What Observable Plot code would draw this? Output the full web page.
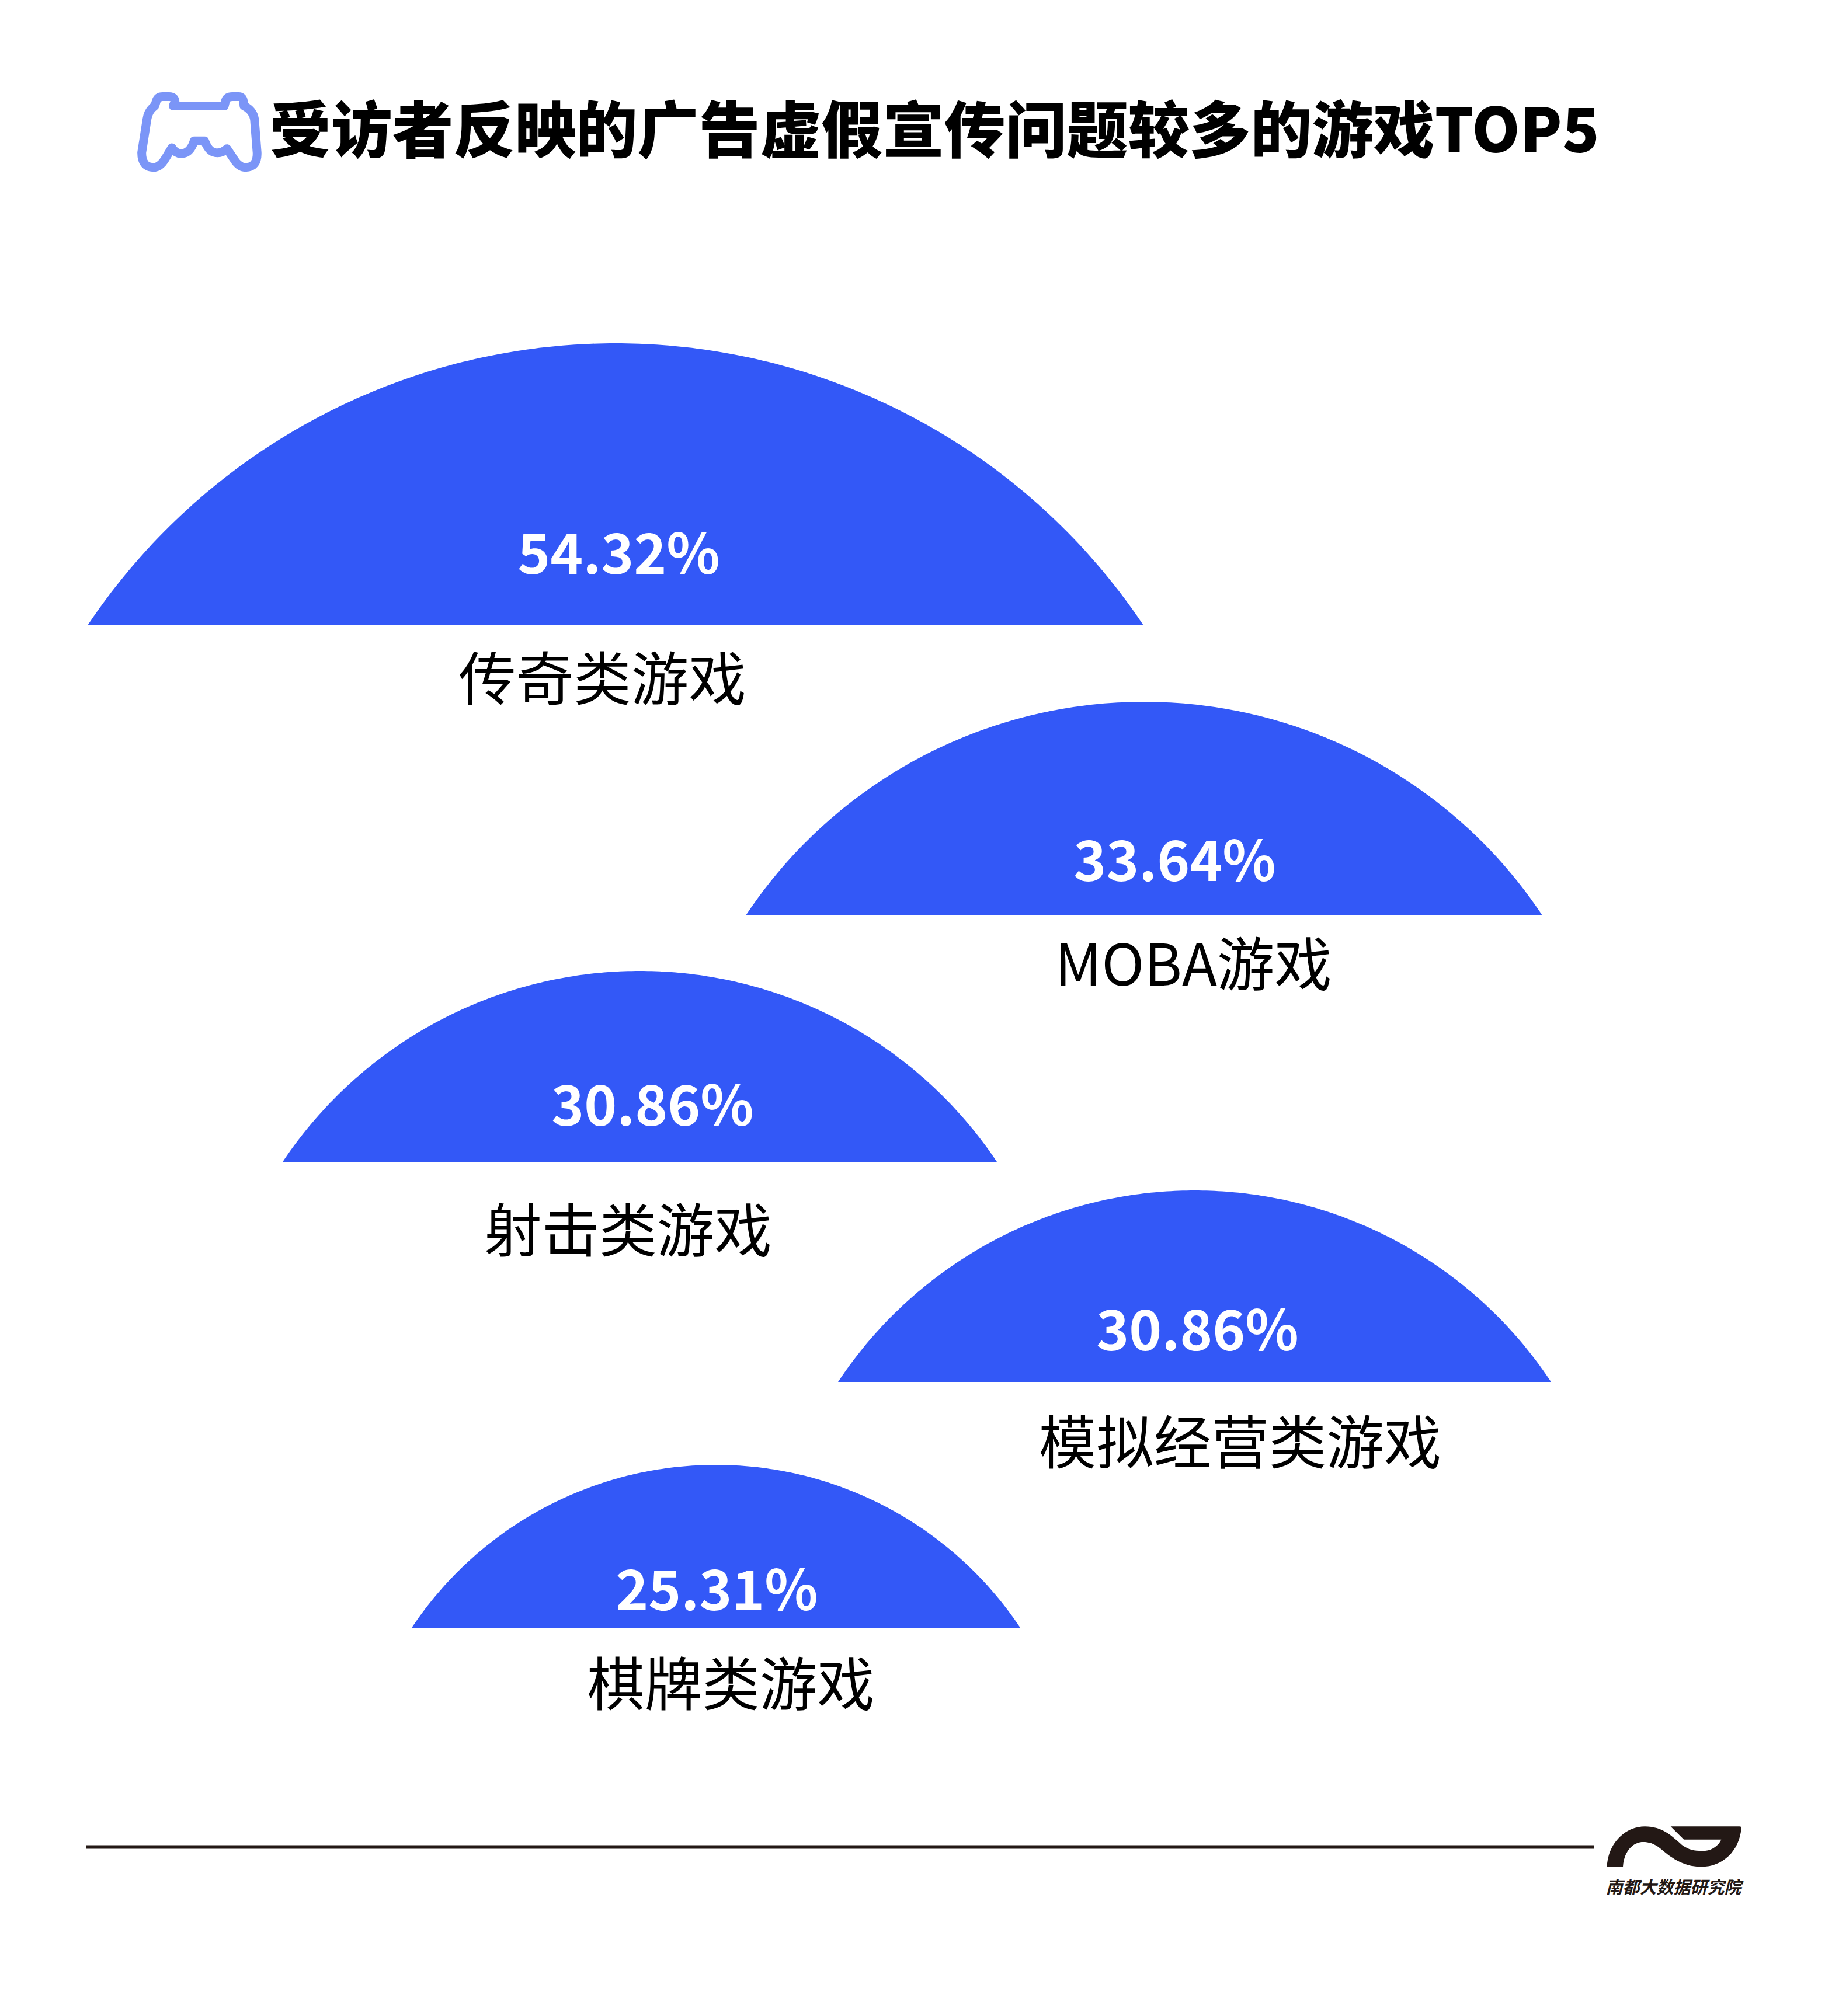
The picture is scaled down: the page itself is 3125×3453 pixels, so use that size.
<!DOCTYPE html>
<html>
<head>
<meta charset="utf-8">
<script src="https://cdn.jsdelivr.net/npm/d3@7"></script>
<script src="https://cdn.jsdelivr.net/npm/@observablehq/plot@0.6"></script>
<style>
html,body{margin:0;padding:0;background:#fff}
svg{display:block}
</style>
</head>
<body>
<div id="chart"></div>
<script>
const categories = ["传奇类游戏", "MOBA游戏", "射击类游戏", "模拟经营类游戏", "棋牌类游戏"];
const shares = [54.32, 33.64, 30.86, 30.86, 25.31];
const titleText = "受访者反映的广告虚假宣传问题较多的游戏TOP5";
const brandText = "南都大数据研究院";

// Layout of the composition, in picture units (not data).
const domeLeft   = [150, 1277, 484, 1435, 705];
const domeRight  = [1958, 2641, 1707, 2656, 1747];
const domeTop    = [588, 1202, 1663, 2039, 2509];
const domeBase   = [1071, 1568, 1990, 2367, 2788];
const shareX = [1059, 2011, 1117, 2050, 1227];
const shareY = [952, 1478, 1897, 2282, 2727];
const nameX  = [1031, 2043, 1075, 2123, 1251];
const nameY  = [1167, 1656, 2112, 2475, 2889];

const BLUE = "#3358f7";
const FONT = "'Noto Sans CJK SC', sans-serif";

// Each dome is a circular segment built from its base and apex.
const domeOutline = categories.flatMap((name, i) => {
  const a = (domeRight[i] - domeLeft[i]) / 2;
  const h = domeBase[i] - domeTop[i];
  const c = (domeRight[i] + domeLeft[i]) / 2;
  const R = (a * a + h * h) / (2 * h);
  return d3.range(-a, a + 0.5, a / 90).map(dx => ({
    name,
    x: c + dx,
    y1: domeBase[i],
    y2: domeBase[i] - (Math.sqrt(Math.max(0, R * R - dx * dx)) - (R - h))
  }));
});

const rows = categories.map((name, i) => ({
  name, share: shares[i], label: shares[i].toFixed(2) + "%",
  sx: shareX[i], sy: shareY[i], nx: nameX[i], ny: nameY[i]
}));

function svgPath(d, attrs) {
  const p = document.createElementNS("http://www.w3.org/2000/svg", "path");
  p.setAttribute("d", d);
  for (const k in attrs) p.setAttribute(k, attrs[k]);
  return p;
}

const gamepad = (index, scales) => {
  const g = svgPath("M215,183 L410,183 L415,155 Q420,135 440,135 L465,135 Q480,135 483,160 L485,182 Q520,205 525,250 L535,420 Q537,495 490,495 Q465,495 445,450 L420,400 Q400,425 375,420 Q350,415 335,360 L295,360 Q280,425 245,425 Q225,425 210,395 L185,450 Q165,495 140,495 Q95,495 95,420 L115,250 Q120,205 145,182 L150,160 Q155,135 175,135 L200,135 Q220,135 222,160 Z", {
    fill: "none", stroke: "#7b95f7", "stroke-width": 15, "stroke-linejoin": "round",
    "vector-effect": "non-scaling-stroke",
    transform: `translate(${scales.x(200)},${scales.y(120)}) scale(0.449,0.3367)`
  });
  return g;
};

const logo = (index, scales) => svgPath("M305,352 C310,230 400,145 500,145 C590,145 640,195 690,240 C730,270 770,272 810,270 C850,265 880,240 892,212 L700,212 L632,145 L985,145 Q997,145 995,155 C985,270 900,352 790,352 C690,352 630,300 575,255 C545,232 520,225 490,225 C440,225 392,270 387,352 Z", {
  fill: "#231815",
  transform: `translate(${scales.x(2650)},${scales.y(3080)}) scale(${1 / 3})`
});

const chart = Plot.plot({
  width: 3125,
  height: 3453,
  margin: 0,
  style: {background: "#fff", fontFamily: FONT},
  x: {domain: [0, 3125], range: [0, 3125], axis: null},
  y: {domain: [0, 3453], range: [0, 3453], axis: null},
  marks: [
    Plot.areaY(domeOutline, {x: "x", y1: "y1", y2: "y2", z: "name", fill: BLUE, curve: "linear"}),
    Plot.text(rows, {x: "sx", y: "sy", text: "label", fill: "#fff", fontSize: 95, fontWeight: 700, fontFamily: FONT, textAnchor: "middle"}),
    Plot.text(rows, {x: "nx", y: "ny", text: "name", fill: "#000", fontSize: 98.5, fontWeight: 400, fontFamily: FONT, textAnchor: "middle"}),
    Plot.text([titleText], {x: () => 461, y: () => 227, text: d => d, fill: "#000", fontSize: 105, fontWeight: 900, fontFamily: FONT, textAnchor: "start"}),
    Plot.ruleY([3163], {x1: () => 148, x2: () => 2729, stroke: "#231815", strokeWidth: 6}),
    Plot.text([brandText], {x: () => 2865, y: () => 3233, text: d => d, fill: "#231815", fontSize: 29, fontWeight: 700, fontStyle: "italic", fontFamily: FONT, textAnchor: "middle"}),
    gamepad,
    logo
  ]
});
document.getElementById("chart").appendChild(chart);
</script>
</body>
</html>
